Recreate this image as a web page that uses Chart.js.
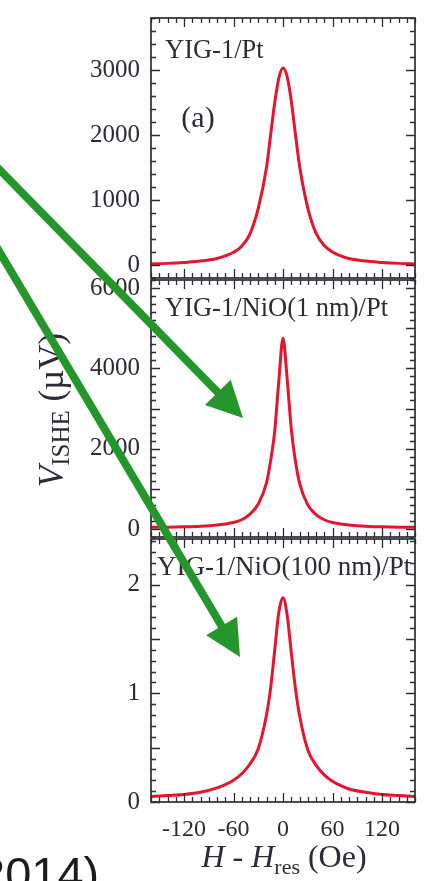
<!DOCTYPE html>
<html>
<head>
<meta charset="utf-8">
<script src="https://cdn.jsdelivr.net/npm/chart.js@4.4.1/dist/chart.umd.min.js"></script>
<style>
    html, body { margin: 0; padding: 0; background: #fff; }
    #wrap { position: relative; width: 438px; height: 881px; overflow: hidden; background: #fff; }
    #wrap canvas, #wrap svg { position: absolute; left: 0; top: 0; }
</style>
</head>
<body>
<div id="wrap">
    <canvas id="panelPt" width="438" height="881"></canvas>
    <canvas id="panelNiO1" width="438" height="881"></canvas>
    <canvas id="panelNiO100" width="438" height="881"></canvas>
    <svg id="overlay" width="438" height="881" xmlns="http://www.w3.org/2000/svg"></svg>
</div>
<script>
// Field offset from resonance (Oe)
const fieldOe = [-160, -140, -120, -100, -80, -70, -60, -50, -40, -30, -20, -15, -10, -5, 0,
    5, 10, 15, 20, 30, 40, 50, 60, 70, 80, 100, 120, 140, 160];

// Spin pumping voltage, YIG-1/Pt (µV)
const vPt = [15, 25, 40, 60, 100, 140, 195, 290, 480, 870, 1500, 2000, 2500, 2880, 3030,
    2900, 2530, 2020, 1530, 880, 490, 300, 200, 140, 100, 60, 40, 25, 15];

// YIG-1/NiO(1 nm)/Pt (µV)
const vNiO1 = [40, 45, 55, 70, 100, 125, 160, 230, 370, 620, 1150, 1700, 2450, 3700, 4750,
    3750, 2500, 1700, 1150, 600, 360, 230, 160, 125, 100, 70, 55, 45, 40];

// YIG-1/NiO(100 nm)/Pt (µV)
const vNiO100 = [0.05, 0.06, 0.07, 0.09, 0.13, 0.16, 0.20, 0.26, 0.35, 0.49, 0.80, 1.05, 1.40, 1.75, 1.88,
    1.72, 1.38, 1.05, 0.80, 0.48, 0.34, 0.25, 0.19, 0.15, 0.12, 0.09, 0.07, 0.06, 0.05];

const xTickLabels = [-120, -60, 0, 60, 120];
const yTicksPt = [0, 1000, 2000, 3000];
const yTicksNiO1 = [0, 2000, 4000, 6000];
const yTicksNiO100 = [0, 1, 2];

const panelTitles = ["YIG-1/Pt", "YIG-1/NiO(1 nm)/Pt", "YIG-1/NiO(100 nm)/Pt"];

const SERIF = '"Liberation Serif", "Times New Roman", serif';
const INK = "#2c2c36";
const CURVE = "#e4152d";

// draws a run of text pieces (italic / subscript) starting at x
function drawPieces(ctx, pieces, x, y) {
    let cx = x;
    pieces.forEach(p => {
        ctx.font = p.font;
        ctx.fillText(p.text, cx, y + (p.dy || 0));
        cx += ctx.measureText(p.text).width;
    });
}

function piecesWidth(ctx, pieces) {
    let w = 0;
    pieces.forEach(p => {
        ctx.font = p.font;
        w += ctx.measureText(p.text).width;
    });
    return w;
}

// closed frame with inward ticks on all four sides
const frameTicks = {
    id: "frameTicks",
    afterDatasetsDraw(chart, args, opts) {
        const { ctx, chartArea: a, scales: { x, y } } = chart;
        ctx.save();
        ctx.strokeStyle = INK;
        ctx.lineWidth = 1.7;
        ctx.strokeRect(a.left, a.top, a.right - a.left, a.bottom - a.top);

        ctx.lineWidth = 1.3;
        ctx.beginPath();
        const isMajor = (v, step) => Math.abs(v / step - Math.round(v / step)) < 1e-6;
        for (let i = Math.ceil(x.min / opts.xMinor); i * opts.xMinor <= x.max + 1e-9; i++) {
            const v = i * opts.xMinor;
            const px = Math.round(x.getPixelForValue(v)) + 0.5;
            const len = isMajor(v, opts.xMajor) ? 9 : 5;
            ctx.moveTo(px, a.bottom); ctx.lineTo(px, a.bottom - len);
            ctx.moveTo(px, a.top); ctx.lineTo(px, a.top + len);
        }
        for (let i = Math.ceil(y.min / opts.yMinor - 1e-9); i * opts.yMinor <= y.max + 1e-9; i++) {
            const v = i * opts.yMinor;
            const py = Math.round(y.getPixelForValue(v)) + 0.5;
            const len = isMajor(v, opts.yMajor) ? 9 : 5;
            ctx.moveTo(a.left, py); ctx.lineTo(a.left + len, py);
            ctx.moveTo(a.right, py); ctx.lineTo(a.right - len, py);
        }
        ctx.stroke();
        ctx.restore();
    },
    afterDraw(chart, args, opts) {
        const { ctx, chartArea: a } = chart;
        ctx.save();
        ctx.fillStyle = INK;
        ctx.textBaseline = "middle";
        ctx.textAlign = "left";
        ctx.font = `${opts.titleSize}px ${SERIF}`;
        ctx.fillText(opts.title, opts.titleX, a.top + opts.titleDy);
        if (opts.tag) {
            ctx.textAlign = "center";
            ctx.font = `30px ${SERIF}`;
            ctx.fillText(opts.tag, 198, a.top + 101);
        }
        if (opts.yTitle) {
            // V_ISHE (µV), rotated
            const pieces = [
                { text: "V", font: `italic 35px ${SERIF}` },
                { text: "ISHE", font: `25px ${SERIF}`, dy: 8 },
                { text: " (µV)", font: `35px ${SERIF}` }
            ];
            ctx.translate(54, 410);
            ctx.rotate(-Math.PI / 2);
            ctx.textAlign = "left";
            ctx.textBaseline = "middle";
            drawPieces(ctx, pieces, -piecesWidth(ctx, pieces) / 2, 0);
        }
        if (opts.xTitle) {
            const pieces = [
                { text: "H", font: `italic 32px ${SERIF}` },
                { text: " - ", font: `32px ${SERIF}` },
                { text: "H", font: `italic 32px ${SERIF}` },
                { text: "res", font: `22px ${SERIF}`, dy: 9 },
                { text: " (Oe)", font: `32px ${SERIF}` }
            ];
            ctx.textAlign = "left";
            ctx.textBaseline = "middle";
            drawPieces(ctx, pieces, 284 - piecesWidth(ctx, pieces) / 2, 859);
        }
        ctx.restore();
    }
};

function makePanel(id, values, yMin, yMax, yTicks, padTop, padBottom, extra) {
    const showX = !!extra.xAxis;
    return new Chart(document.getElementById(id), {
        type: "line",
        data: {
            datasets: [{
                data: fieldOe.map((f, i) => ({ x: f, y: values[i] })),
                borderColor: CURVE,
                borderWidth: 3,
                pointRadius: 0,
                cubicInterpolationMode: "monotone",
                fill: false
            }]
        },
        options: {
            responsive: false,
            animation: false,
            layout: { padding: { left: 0, right: 23, top: padTop, bottom: padBottom } },
            plugins: {
                legend: { display: false },
                tooltip: { enabled: false },
                frameTicks: extra.frame
            },
            scales: {
                x: {
                    type: "linear",
                    min: -160,
                    max: 160,
                    display: showX,
                    grid: { display: false },
                    border: { display: false },
                    afterBuildTicks: scale => { scale.ticks = xTickLabels.map(v => ({ value: v })); },
                    afterFit: scale => { if (showX) scale.height = 79; },
                    ticks: {
                        color: INK,
                        padding: 5,
                        maxRotation: 0,
                        autoSkip: false,
                        font: { family: SERIF, size: 24 },
                        callback: v => String(v)
                    }
                },
                y: {
                    min: yMin,
                    max: yMax,
                    grid: { display: false },
                    border: { display: false },
                    afterBuildTicks: scale => { scale.ticks = yTicks.map(v => ({ value: v })); },
                    afterFit: scale => { scale.width = 151; },
                    ticks: {
                        color: INK,
                        padding: 3,
                        autoSkip: false,
                        font: { family: SERIF, size: 25 },
                        callback: v => String(v)
                    }
                }
            }
        },
        plugins: [frameTicks]
    });
}

makePanel("panelPt", vPt, -200, 3800, yTicksPt, 15, 881 - 278, {
    frame: { xMinor: 10, xMajor: 60, yMinor: 200, yMajor: 1000,
        title: panelTitles[0], titleX: 165, titleDy: 33, titleSize: 26.5, tag: "(a)" }
});

makePanel("panelNiO1", vNiO1, -200, 6200, yTicksNiO1, 280, 881 - 537, {
    frame: { xMinor: 10, xMajor: 60, yMinor: 200, yMajor: 1000,
        title: panelTitles[1], titleX: 165, titleDy: 29, titleSize: 26.5, yTitle: true }
});

makePanel("panelNiO100", vNiO100, 0, 2.42, yTicksNiO100, 539, 0, {
    xAxis: true,
    frame: { xMinor: 10, xMajor: 60, yMinor: 0.1, yMajor: 0.5,
        title: panelTitles[2], titleX: 157, titleDy: 29, titleSize: 27, xTitle: true }
});

// green pointer arrows and the cut-off caption on the left
const NS = "http://www.w3.org/2000/svg";
const svg = document.getElementById("overlay");
const arrowColor = "#24962a";

function addArrow(x0, y0, tipX, tipY) {
    const dx = tipX - x0, dy = tipY - y0;
    const len = Math.hypot(dx, dy);
    const ux = dx / len, uy = dy / len;
    const headLen = 36, headHalf = 18;
    const bx = tipX - ux * headLen, by = tipY - uy * headLen;

    const line = document.createElementNS(NS, "line");
    line.setAttribute("x1", x0); line.setAttribute("y1", y0);
    line.setAttribute("x2", bx + ux * 2); line.setAttribute("y2", by + uy * 2);
    line.setAttribute("stroke", arrowColor);
    line.setAttribute("stroke-width", 8);
    svg.appendChild(line);

    const head = document.createElementNS(NS, "polygon");
    const pts = [
        [tipX, tipY],
        [bx - uy * headHalf, by + ux * headHalf],
        [bx + uy * headHalf, by - ux * headHalf]
    ];
    head.setAttribute("points", pts.map(p => p.join(",")).join(" "));
    head.setAttribute("fill", arrowColor);
    svg.appendChild(head);
}

addArrow(-6, 164, 243, 418);
addArrow(-4, 246, 240, 657);

const caption = document.createElementNS(NS, "text");
caption.setAttribute("x", -21);
caption.setAttribute("y", 890);
caption.setAttribute("font-family", '"Liberation Sans", Arial, sans-serif');
caption.setAttribute("font-size", 47);
caption.setAttribute("fill", "#1c1c1c");
caption.textContent = "2014)";
svg.appendChild(caption);
</script>
</body>
</html>
